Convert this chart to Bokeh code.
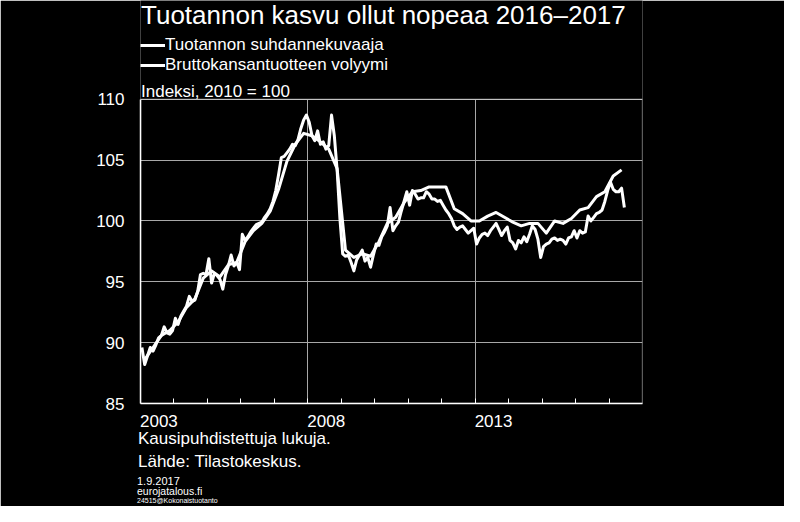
from bokeh.plotting import figure
from bokeh.models import (Legend, LegendItem, FixedTicker, Range1d, Title, Label,
                          BoxAnnotation, CustomJSTickFormatter)
from bokeh.embed import file_html
from bokeh.resources import INLINE

FONT = "Liberation Sans"
GRID = "#a8a8a8"

# Tuotannon suhdannekuvaaja, monthly 2003-01 ... 2017-06 (index 2010 = 100)
suhdanne = [
    89.6, 88.2, 88.9, 89.6, 89.3, 89.8, 90.4, 90.6, 91.3, 90.8, 90.7, 91.0,        # 2003
    92.0, 91.5, 92.2, 92.6, 93.0, 93.8, 93.4, 93.5, 94.2, 95.6, 95.7, 95.6,        # 2004
    96.9, 94.9, 95.7, 95.5, 95.2, 94.4, 95.6, 96.3, 97.2, 96.3, 96.6, 96.0,        # 2005
    98.9, 98.4, 98.7, 99.1, 99.4, 99.7, 99.8, 99.9, 100.3, 100.6, 101.0, 101.6,    # 2006
    102.5, 103.8, 105.2, 105.3, 105.6, 105.9, 106.3, 106.2, 106.7, 107.6, 108.3, 108.7,  # 2007
    108.1, 107.0, 106.6, 107.4, 106.3, 106.5, 105.9, 106.2, 108.7, 107.0, 104.2, 100.2,  # 2008
    97.3, 97.1, 97.2, 96.6, 95.9, 96.8, 97.2, 97.6, 96.7, 97.0, 96.2, 97.2,        # 2009
    98.1, 98.0, 98.7, 99.1, 99.6, 101.1, 99.2, 99.6, 99.9, 100.8, 101.6, 102.4,    # 2010
    101.3, 102.5, 102.2, 101.8, 101.9, 101.9, 102.4, 102.2, 101.8, 101.8, 101.6, 101.7,  # 2011
    101.3, 100.9, 100.6, 100.2, 99.6, 99.3, 99.5, 99.6, 99.3, 99.0, 99.2, 99.4,    # 2012
    98.1, 98.6, 98.9, 99.0, 98.8, 99.2, 99.5, 99.8, 99.3, 98.8, 99.2, 99.5,        # 2013
    98.4, 98.2, 97.7, 98.4, 98.2, 98.7, 98.3, 98.9, 99.6, 99.3, 98.5, 97.0,        # 2014
    97.9, 98.1, 98.2, 98.5, 98.6, 98.4, 98.5, 98.4, 98.1, 98.6, 98.7, 99.2,        # 2015
    98.6, 99.2, 99.0, 99.1, 100.4, 100.0, 100.3, 100.6, 100.7, 100.9, 101.6, 102.5,  # 2016
    103.2, 102.6, 102.4, 102.4, 102.7, 101.1,                                      # 2017
]

# Bruttokansantuotteen volyymi, quarterly 2003Q1 ... 2017Q2
bkt = [
    88.6, 89.6, 90.6, 91.0,      # 2003
    91.7, 92.9, 93.6, 95.3,      # 2004
    95.9, 95.4, 96.4, 96.6,      # 2005
    98.3, 99.2, 99.8, 100.8,     # 2006
    102.6, 104.9, 106.3, 107.2,  # 2007
    107.0, 106.5, 105.9, 104.3,  # 2008
    97.6, 97.0, 97.3, 97.1,      # 2009
    98.3, 99.8, 100.3, 101.5,    # 2010
    102.4, 102.5, 102.8, 102.8,  # 2011
    102.8, 101.0, 100.6, 100.0,  # 2012
    100.0, 100.4, 100.7, 100.3,  # 2013
    99.9, 99.6, 99.8, 99.8,      # 2014
    99.0, 100.0, 99.8, 100.2,    # 2015
    100.9, 101.1, 102.0, 102.4,  # 2016
    103.7, 104.2,                # 2017
]

start_year = 2003
end_year = 2018
x_label_years = [2003, 2008, 2013]
grid_years = [2008, 2013]
minor_years = list(range(2004, 2018))
y_ticks = [85, 90, 95, 100, 105, 110]

series_names = ["Tuotannon suhdannekuvaaja", "Bruttokansantuotteen volyymi"]
title_text = "Tuotannon kasvu ollut nopeaa 2016\u20132017"
unit_text = "Indeksi, 2010 = 100"
footer_lines = ["Kausipuhdistettuja lukuja.", "Lähde: Tilastokeskus."]
small_lines = ["1.9.2017", "eurojatalous.fi", "24515@Kokonaistuotanto"]

# time positions: middle of month / middle of quarter
month_x = [start_year + (i + 0.5) / 12 for i in range(len(suhdanne))]
quarter_x = [start_year + (3 * q + 1.5) / 12 for q in range(len(bkt))]

# ---- layout constants (pixels)
W, H = 784, 506
LEFT, RIGHT, BOTTOM = 140, 142, 102          # frame: x 140..642, y 0..404 (canvas)
PLOT_TOP = 99                                # canvas y of value 110
PX_PER_UNIT = (H - BOTTOM - PLOT_TOP) / (y_ticks[-1] - y_ticks[0])
y_top = y_ticks[-1] + PLOT_TOP / PX_PER_UNIT  # frame extends up to the canvas top

LABEL_SHIFT = 0.55                            # year labels start at their tick
label_ticks = [y + LABEL_SHIFT for y in x_label_years]

p = figure(width=W, height=H, output_backend="svg", toolbar_location=None,
           title=None,
           x_range=Range1d(start_year, end_year), y_range=Range1d(y_ticks[0], y_top),
           min_border_left=LEFT, min_border_right=RIGHT, min_border_top=0,
           min_border_bottom=BOTTOM,
           background_fill_color="black", border_fill_color="black",
           outline_line_color=None)

p.xaxis.ticker = FixedTicker(ticks=label_ticks, minor_ticks=minor_years)
p.xaxis.formatter = CustomJSTickFormatter(code="return String(Math.floor(tick));")
p.yaxis.ticker = FixedTicker(ticks=y_ticks)
p.yaxis.bounds = (y_ticks[0], y_ticks[-1])

for ax in (p.xaxis[0], p.yaxis[0]):
    ax.axis_line_color = "white"
    ax.axis_line_width = 1.5
    ax.major_tick_line_color = "white"
    ax.minor_tick_line_color = "white"
    ax.major_label_text_color = "white"
    ax.major_label_text_font = FONT
    ax.major_label_text_font_size = "17px"

p.yaxis.major_tick_in = 0
p.yaxis.major_tick_out = 0
p.yaxis.minor_tick_in = 0
p.yaxis.minor_tick_out = 0
p.yaxis.major_label_standoff = 16

p.xaxis.major_tick_in = 0
p.xaxis.major_tick_out = 0
p.xaxis.minor_tick_in = 5
p.xaxis.minor_tick_out = 0
p.xaxis.major_label_standoff = 11

p.ygrid.grid_line_color = GRID
p.ygrid.grid_line_width = 1

xg = p.xgrid[0]
if "cross_bounds" in xg.properties():
    xg.ticker = FixedTicker(ticks=grid_years)
    xg.cross_bounds = (y_ticks[0], y_ticks[-1])
    xg.grid_line_color = GRID
    xg.grid_line_width = 1
else:
    xg.visible = False
    p.segment(x0=grid_years, y0=[y_ticks[0]] * len(grid_years),
              x1=grid_years, y1=[y_ticks[-1]] * len(grid_years),
              line_color=GRID, line_width=1, level="underlay")

# plot-area border (top and right edges)
p.add_layout(BoxAnnotation(left=start_year, right=end_year, bottom=y_ticks[0], top=y_ticks[-1],
                           fill_alpha=0, line_color="white", line_width=1.5))

r1 = p.line(month_x, suhdanne, line_color="white", line_width=3, line_join="round")
r2 = p.line(quarter_x, bkt, line_color="white", line_width=3, line_join="round")

FX, FY = 148, 412  # frame left / bottom in page pixels


def add_label(text, px, py_center, size):
    p.add_layout(Label(x=px - FX, y=FY - py_center, x_units="screen", y_units="screen",
                       text=text, text_color="white", text_font=FONT, text_font_size=size,
                       text_align="left", text_baseline="middle"))


add_label(title_text, 148.5, 23.5, "26px")
add_label(unit_text, 148.5, 100, "17px")

legend = Legend(items=[LegendItem(label=series_names[0], renderers=[r1]),
                       LegendItem(label=series_names[1], renderers=[r2])],
                location=(0, FY - 84), orientation="vertical",
                background_fill_alpha=0, border_line_alpha=0,
                label_text_color="white", label_text_font=FONT, label_text_font_size="17px",
                glyph_width=25, glyph_height=20, label_height=20, label_standoff=0,
                spacing=0, padding=0, margin=0)
p.add_layout(legend, "center")


def make_title(text, size, offset, standoff):
    return Title(text=text, align="left", offset=offset, standoff=standoff,
                 vertical_align="top", text_color="white", text_font=FONT,
                 text_font_size=size, text_font_style="normal")


# below the plot (after the x axis)
p.add_layout(make_title(footer_lines[0], "17px", -2.5, -1), "below")
p.add_layout(make_title(footer_lines[1], "17px", -2.5, 4.6), "below")
p.add_layout(make_title(small_lines[0], "11px", -3.5, 2.2), "below")
p.add_layout(make_title(small_lines[1], "10.5px", -3.5, -5.5), "below")
p.add_layout(make_title(small_lines[2], "7px", -3.5, 0.7), "below")

open("out.html", "w").write(file_html(p, INLINE))
